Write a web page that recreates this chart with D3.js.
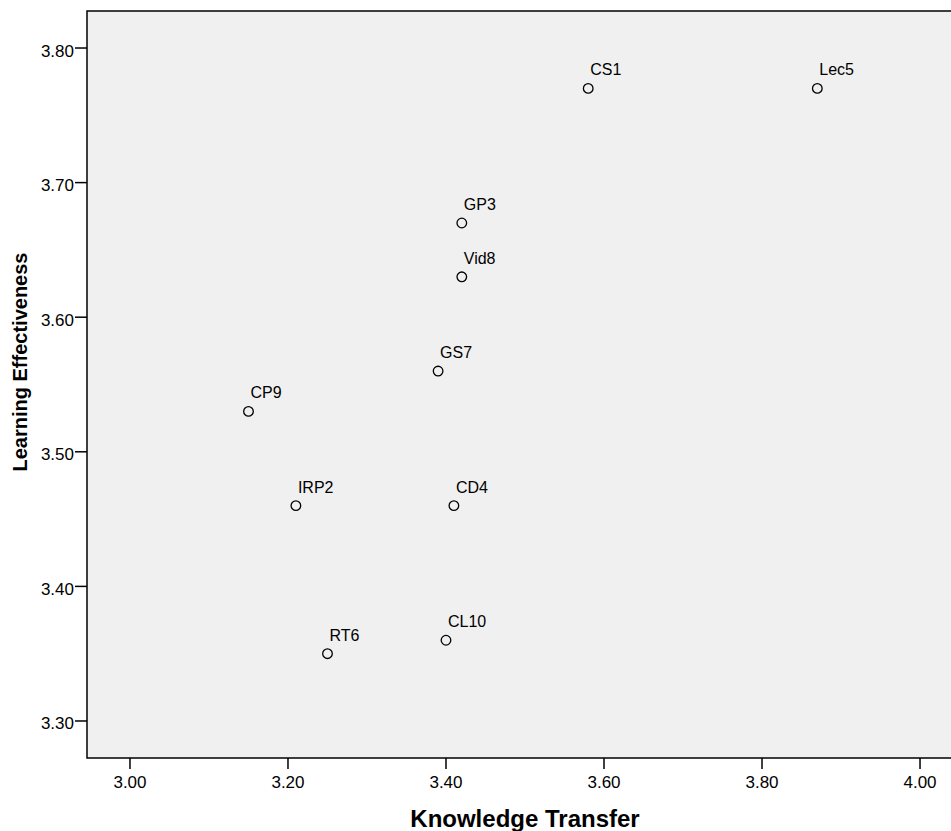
<!DOCTYPE html>
<html>
<head>
<meta charset="utf-8">
<script src="https://cdn.jsdelivr.net/npm/d3@7"></script>
<style>
  body { margin: 0; background: #fff; }
  svg { display: block; font-family: "Liberation Sans", Arial, sans-serif; }
  .tick-label { font-size: 17px; fill: #000; }
  .pt-label { font-size: 16px; fill: #000; }
  .axis-title { font-weight: bold; fill: #000; }
</style>
</head>
<body>
<div id="chart"></div>
<script>
// Scatter: knowledge transfer vs learning effectiveness
var labels = ['CS1', 'Lec5', 'GP3', 'Vid8', 'GS7', 'CP9', 'IRP2', 'CD4', 'CL10', 'RT6'];
var knowledgeTransfer = [3.58, 3.87, 3.42, 3.42, 3.39, 3.15, 3.21, 3.41, 3.40, 3.25];
var learningEffect = [3.77, 3.77, 3.67, 3.63, 3.56, 3.53, 3.46, 3.46, 3.36, 3.35];
var xTicks = [3.00, 3.20, 3.40, 3.60, 3.80, 4.00];
var yTicks = [3.30, 3.40, 3.50, 3.60, 3.70, 3.80];

var W = 951, H = 831;
var svg = d3.select('#chart').append('svg')
  .attr('width', W).attr('height', H);

var plotL = 87, plotT = 11, plotR = 963, plotB = 758;

var x = d3.scaleLinear().domain([2.9456, 4.0544]).range([plotL, plotR]);
var y = d3.scaleLinear().domain([3.2725, 3.8275]).range([plotB, plotT]);

// plot frame
svg.append('rect')
  .attr('x', plotL).attr('y', plotT)
  .attr('width', plotR - plotL).attr('height', plotB - plotT)
  .attr('fill', '#f0f0f0')
  .attr('stroke', '#000')
  .attr('stroke-width', 1.5);

// y ticks
var yg = svg.append('g');
yg.selectAll('line').data(yTicks).enter().append('line')
  .attr('x1', plotL - 12).attr('x2', plotL)
  .attr('y1', function(d) { return y(d); })
  .attr('y2', function(d) { return y(d); })
  .attr('stroke', '#000').attr('stroke-width', 1.5);
yg.selectAll('text').data(yTicks).enter().append('text')
  .attr('class', 'tick-label')
  .attr('x', plotL - 13)
  .attr('y', function(d) { return y(d) + 8.5; })
  .attr('text-anchor', 'end')
  .text(function(d) { return d.toFixed(2); });

// x ticks
var xg = svg.append('g');
xg.selectAll('line').data(xTicks).enter().append('line')
  .attr('x1', function(d) { return x(d); })
  .attr('x2', function(d) { return x(d); })
  .attr('y1', plotB).attr('y2', plotB + 11)
  .attr('stroke', '#000').attr('stroke-width', 1.5);
xg.selectAll('text').data(xTicks).enter().append('text')
  .attr('class', 'tick-label')
  .attr('x', function(d) { return x(d); })
  .attr('y', plotB + 30)
  .attr('text-anchor', 'middle')
  .text(function(d) { return d.toFixed(2); });

// points
var pts = labels.map(function(l, i) {
  return { label: l, kt: knowledgeTransfer[i], le: learningEffect[i] };
});

svg.selectAll('.pt').data(pts).enter().append('circle')
  .attr('class', 'pt')
  .attr('cx', function(d) { return x(d.kt); })
  .attr('cy', function(d) { return y(d.le); })
  .attr('r', 4.8)
  .attr('fill', 'none')
  .attr('stroke', '#000')
  .attr('stroke-width', 1.3);

svg.selectAll('.pt-label').data(pts).enter().append('text')
  .attr('class', 'pt-label')
  .attr('x', function(d) { return x(d.kt) + 2; })
  .attr('y', function(d) { return y(d.le) - 13; })
  .text(function(d) { return d.label; });

// axis titles
svg.append('text')
  .attr('class', 'axis-title')
  .style('font-size', '24px')
  .attr('x', 525).attr('y', 827)
  .attr('text-anchor', 'middle')
  .text('Knowledge Transfer');

svg.append('text')
  .attr('class', 'axis-title')
  .style('font-size', '20px')
  .attr('transform', 'translate(27,362) rotate(-90)')
  .attr('text-anchor', 'middle')
  .text('Learning Effectiveness');
</script>
</body>
</html>
